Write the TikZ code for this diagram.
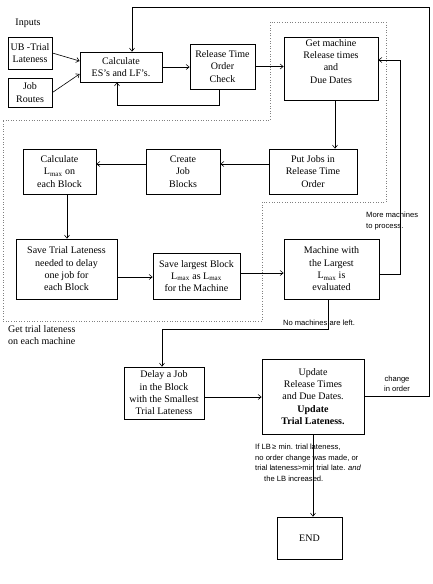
\documentclass[tikz,border=0pt]{standalone}
\usepackage{fontspec}
\setmainfont{Liberation Serif}
\newfontfamily\lab{Liberation Sans}
\usetikzlibrary{arrows.meta}
\newcommand{\Lmx}{L\textsubscript{max}}
\begin{document}
\begin{tikzpicture}[x=1pt,y=-1pt,
  box/.style={draw,line width=0.8pt,align=center,inner sep=1pt,font=\fontsize{10}{12.3}\selectfont},
  conn/.style={line width=0.6pt,-{Straight Barb[length=3pt,width=5pt]}},
  plain/.style={line width=0.6pt},
  lbl/.style={align=left,inner sep=0pt,font=\lab\fontsize{7.6}{10.5}\selectfont},
  ttl/.style={align=left,inner sep=0pt,font=\fontsize{10}{12.3}\selectfont},
  region/.style={dotted,gray,line width=0.6pt}]
\useasboundingbox (0,0) rectangle (432,584);
% dotted region
\draw[region] (3,120) -- (270,120) -- (270,22) -- (386,22) -- (386,202) -- (262,202) -- (262,321) -- (3,321) -- cycle;
% boxes
\node[box,minimum width=44pt,minimum height=32pt] (ub) at (30,53) {UB -Trial\\Lateness};
\node[box,minimum width=44pt,minimum height=29pt] (jr) at (30,92.5) {Job\\Routes};
\node[box,minimum width=82pt,minimum height=30pt] (calc) at (121,67) {Calculate\\ES's and LF's.};
\node[box,minimum width=65pt,minimum height=45pt] (rel) at (222.5,66.5) {Release Time\\Order\\Check};
\node[box,minimum width=94pt,minimum height=63pt] (getm) at (331,68.5) {Get machine\\Release times\\and\\Due Dates\\[2pt]};
\node[box,minimum width=88pt,minimum height=45pt] (put) at (313,171.5) {Put Jobs in\\Release Time\\Order};
\node[box,minimum width=74pt,minimum height=45pt] (create) at (183,171.5) {Create\\Job\\Blocks};
\node[box,minimum width=73pt,minimum height=45pt] (clmax) at (59.5,171.5) {Calculate\\\Lmx{} on\\each Block};
\node[box,minimum width=101pt,minimum height=60pt] (savet) at (66.5,269) {Save Trial Lateness\\needed to delay\\one job for\\each Block};
\node[box,minimum width=87pt,minimum height=46pt] (savel) at (196.5,276) {Save largest Block\\\Lmx{} as \Lmx\\for the Machine};
\node[box,minimum width=95pt,minimum height=60pt] (mach) at (331.5,269) {Machine with\\the Largest\\\Lmx{} is\\evaluated};
\node[box,minimum width=80pt,minimum height=52pt] (delay) at (164,393) {Delay a Job\\in the Block\\with the Smallest\\Trial Lateness};
\node[box,minimum width=102pt,minimum height=75pt] (upd) at (313,396.5) {Update\\Release Times\\and Due Dates.\\\textbf{Update}\\\textbf{Trial Lateness.}};
\node[box,minimum width=65pt,minimum height=42pt] (endb) at (309.5,538) {END};
% labels
\node[ttl] (inp) at (28,23) {Inputs};
\node[ttl,anchor=north west] (gtl) at (8,325) {Get trial lateness\\on each machine};
\node[lbl,anchor=north west] (more) at (366,212) {More machines\\to process.};
\node[lbl] (nomach) at (319,323) {No machines are left.};
\node[lbl,align=center] (chg) at (397,384) {change\\in order};
\node[lbl,anchor=north west] (iflb) at (255,444) {If LB$\,$\char"2265\ min. trial lateness,\\no order change was made, or\\trial lateness>min trial late. \textit{and}\\\hspace{9pt}the LB increased.};
% coordinates
\coordinate (rr) at (429,7);
\coordinate (mr) at (400,60);
\coordinate (nm) at (162,329);
% connectors
\draw[conn] (ub.east) -- ([yshift=6pt]calc.west);
\draw[conn] (jr.east) -- ([yshift=-7pt]calc.west);
\draw[conn] (calc.east) -- (calc.east -| rel.west);
\draw[conn] (rel.east) -- (rel.east -| getm.west);
\draw[conn] ([xshift=-3.5pt]rel.south) -- ++(0,16) -| ([xshift=-4pt]calc.south);
\draw[conn] (upd.east) -| (rr) -| ([xshift=11pt]calc.north);
\draw[conn] ([xshift=4pt]getm.south) -- ([xshift=4pt]getm.south |- put.north);
\draw[conn] ([yshift=7.5pt]put.west) -- ([yshift=7.5pt]create.east);
\draw[conn] ([yshift=7.5pt]create.west) -- ([yshift=7.5pt]clmax.east);
\draw[conn] ([xshift=7.5pt]clmax.south) -- ([xshift=7.5pt]clmax.south |- savet.north);
\draw[conn] ([yshift=-8pt]savet.east) -- ([yshift=-8pt]savet.east -| savel.west);
\draw[conn] ([yshift=3pt]savel.east) -- ([yshift=3pt]savel.east -| mach.west);
\draw[conn] ([yshift=-5pt]mach.east) -| (mr) -- (mr -| getm.east);
\draw[conn] ([xshift=-3.5pt]mach.south) |- (nm) -- (nm |- delay.north);
\draw[conn] ([yshift=-4pt]delay.east) -- ([yshift=-4pt]delay.east -| upd.west);
\draw[conn] (upd.south) -- (upd.south |- endb.north);
\end{tikzpicture}
\end{document}
